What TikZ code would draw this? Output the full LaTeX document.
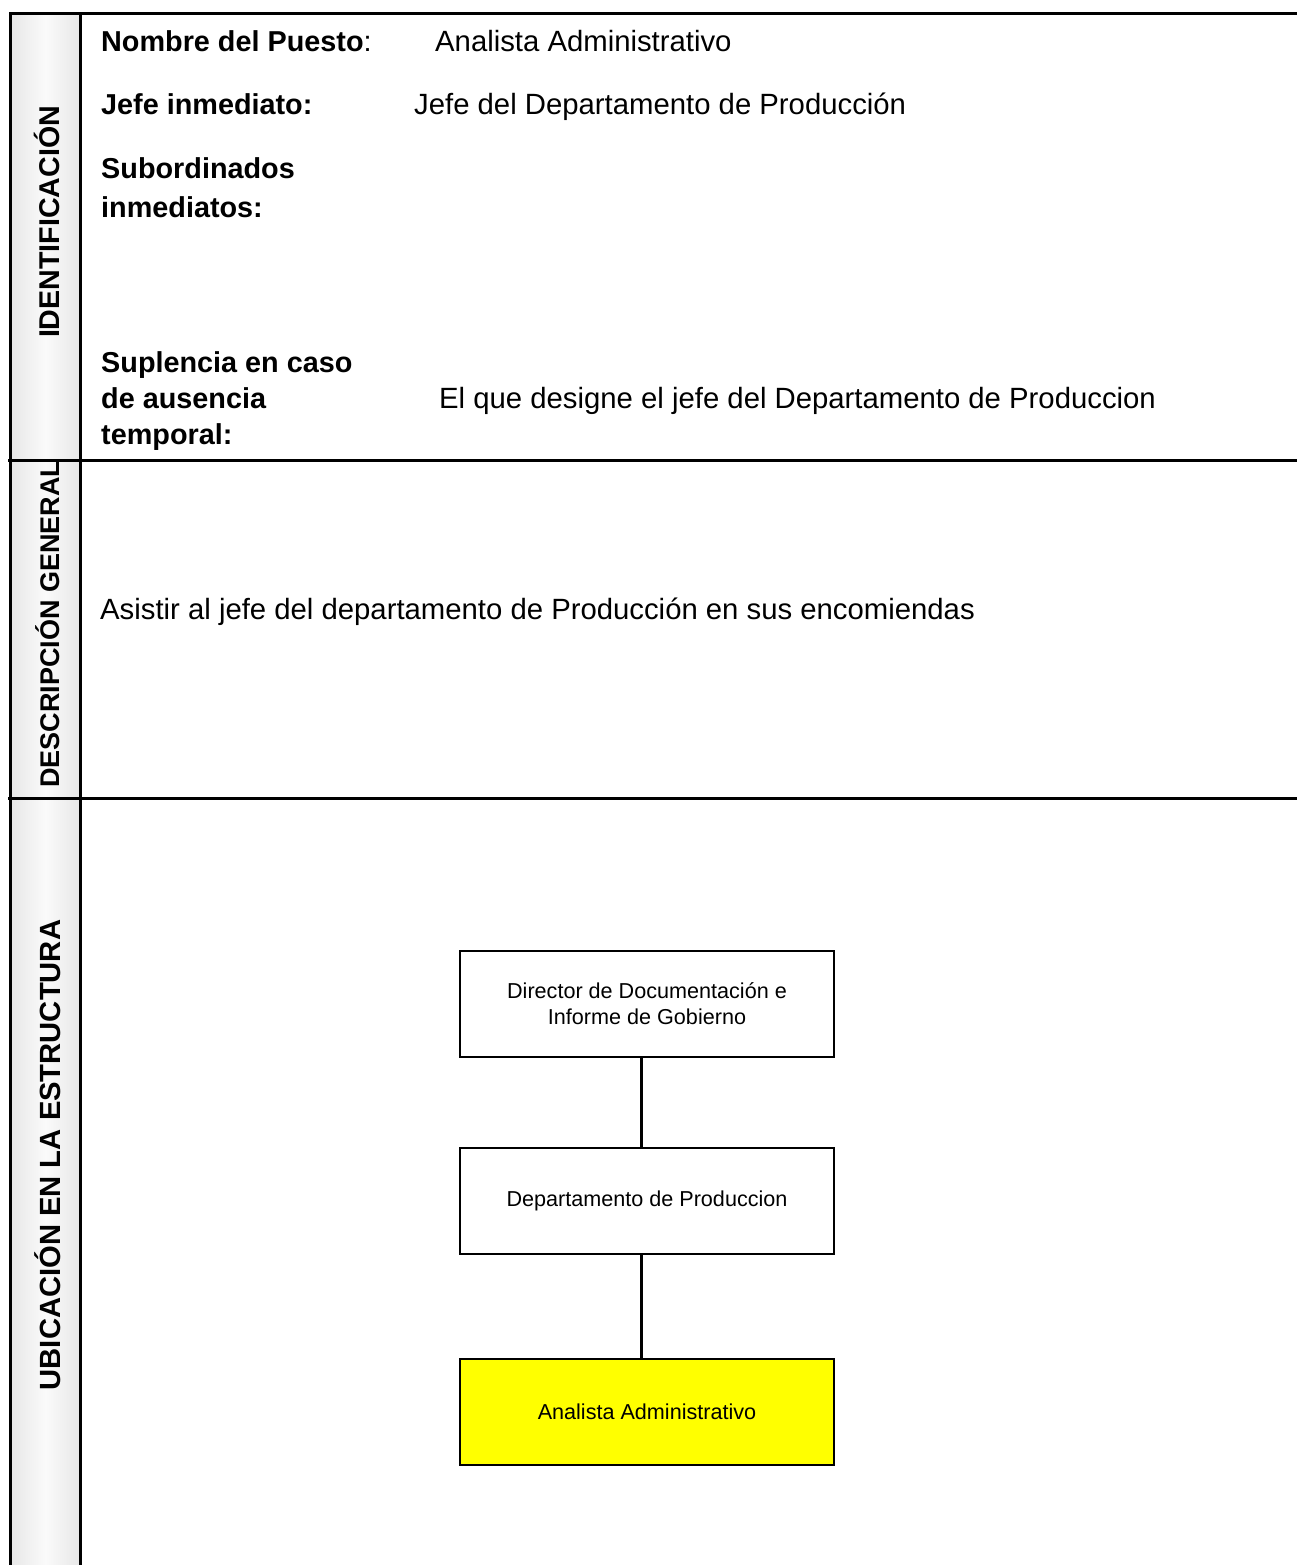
\documentclass[tikz,border=0pt]{standalone}
\usepackage{fontspec}
\setmainfont{Liberation Sans}
\definecolor{sidegray}{HTML}{E8E8E8}
\definecolor{sidelight}{HTML}{FAFAFA}
\definecolor{postyellow}{HTML}{FFFF00}
\begin{document}
\begin{tikzpicture}[x=1pt,y=-1pt,
  rule/.style={line width=3pt,line cap=rect,line join=miter},
  sidelabel/.style={rotate=90,anchor=base,inner sep=0pt,font=\bfseries\fontsize{27}{32}\selectfont},
  field/.style={anchor=base west,inner sep=0pt,font=\bfseries\fontsize{28.8}{34.56}\selectfont,align=left},
  value/.style={anchor=base west,inner sep=0pt,font=\fontsize{29.3}{35}\selectfont},
  orgbox/.style={draw,line width=2pt,fill=white,minimum width=374pt,minimum height=106pt,
    align=center,inner sep=0pt,font=\fontsize{21.6}{25.9}\selectfont},
  link/.style={line width=3pt}]
\useasboundingbox (0,0) rectangle (1296,1565);
\fill[white] (0,0) rectangle (1296,1565);

% shaded title column
\shade[left color=sidegray,right color=sidegray,middle color=sidelight] (12,15) rectangle (79,1565);

% frame and section dividers
\draw[rule] (1296,13.5) -- (10.5,13.5) -- (10.5,1566);
\draw[rule] (80.5,13.5) -- (80.5,1566);
\draw[rule] (9,460.5) -- (1296,460.5);
\draw[rule] (9,798.5) -- (1296,798.5);

% section titles
\node[sidelabel,font=\bfseries\fontsize{28.6}{34}\selectfont] (tid) at (59,222) {IDENTIFICACIÓN};
\node[sidelabel] (tdesc) at (59,624) {DESCRIPCIÓN GENERAL};
\node[sidelabel,font=\bfseries\fontsize{29.2}{34}\selectfont] (tubic) at (60,1155) {UBICACIÓN EN LA ESTRUCTURA};

% identification fields (multi-line nodes sit on their last baseline)
\node[field] (fnombre) at (101,52) {Nombre del Puesto\textmd{:}};
\node[value] (vnombre) at (435,52) {Analista Administrativo};
\node[field] (fjefe) at (101,115) {Jefe inmediato:};
\node[value] (vjefe) at (414,115) {Jefe del Departamento de Producción};
\node[field] (fsub) at (101,217) {Subordinados\\[3.5pt]inmediatos:};
\node[field] (fsup) at (101,444) {Suplencia en caso\\[1pt]de ausencia\\[1pt]temporal:};
\node[value] (vsup) at (439,408) {El que designe el jefe del Departamento de Produccion};

% general description
\node[value] (vdesc) at (100,619) {Asistir al jefe del departamento de Producción en sus encomiendas};

% organisation chart
\node[orgbox] (dir) at (647,1004) {Director de Documentación e\\Informe de Gobierno};
\node[orgbox] (dep) at (647,1200.5) {Departamento de Produccion};
\node[orgbox,fill=postyellow] (ana) at (647,1412) {Analista Administrativo};
\draw[link] ([xshift=-6pt]dir.south) -- ([xshift=-6pt]dep.north);
\draw[link] ([xshift=-6pt]dep.south) -- ([xshift=-6pt]ana.north);
\end{tikzpicture}
\end{document}
